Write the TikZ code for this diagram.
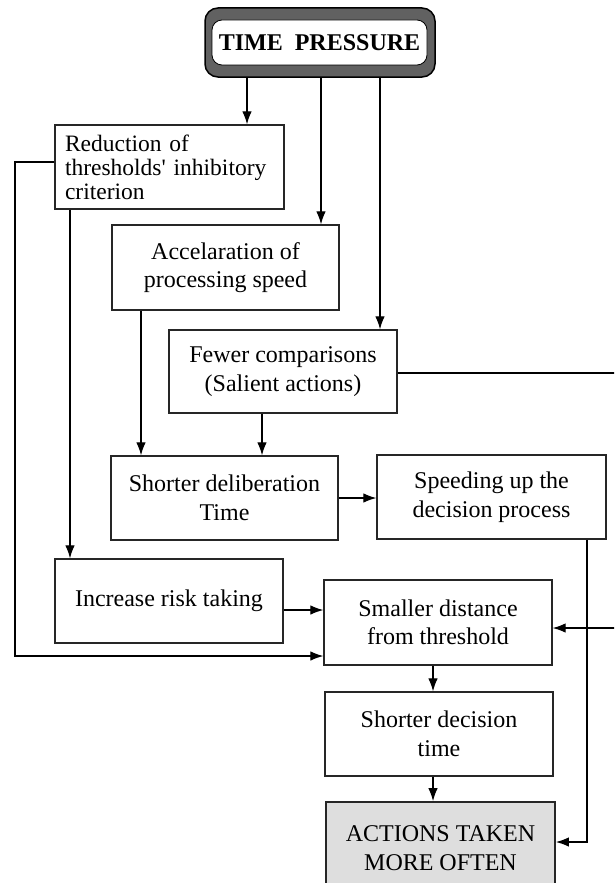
\documentclass[tikz,border=0pt]{standalone}
\usepackage{fontspec}
\setmainfont{Liberation Serif}
\usetikzlibrary{arrows.meta}
\begin{document}
\begin{tikzpicture}[x=1pt,y=-1pt,
  box/.style={draw=black!85, line width=1.3pt, inner sep=0pt, align=center,
    font=\fontsize{24}{28.5}\selectfont},
  arr/.style={line width=1.2pt, -{Latex[length=13pt,width=9.5pt]}},
  link/.style={line width=1.2pt}]
\useasboundingbox (0,0) rectangle (614,883);
\clip (0,0) rectangle (614,883);

% title box: dark rounded frame with a white rounded panel inside
\node (tp) at (320,42.5) [minimum width=230, minimum height=69, rounded corners=13pt,
  fill=black!62, draw=black, line width=1.5pt] {};
\node (tpin) at (319.5,42.5) [minimum width=215, minimum height=45, rounded corners=10pt,
  fill=white, draw=black, line width=0.8pt, inner sep=0pt,
  font=\fontsize{24}{28}\selectfont\bfseries] {TIME\ \ PRESSURE};

% process boxes
\node[box, minimum width=229, minimum height=84, text width=209, align=left,
  font=\fontsize{23.5}{24}\selectfont] (red) at (169.5,167)
  {Reduction of\\thresholds\textquotesingle{} inhibitory\\criterion};
\node[box, minimum width=227, minimum height=85] (acc) at (225.5,267.5)
  {Accelaration of\\processing speed};
\node[box, minimum width=228, minimum height=83] (few) at (283,371.5)
  {Fewer comparisons\\(Salient actions)};
\node[box, minimum width=227, minimum height=84] (del) at (224.5,498)
  {Shorter deliberation\\Time};
\node[box, minimum width=229, minimum height=84] (spd) at (491.5,497)
  {Speeding up the\\decision process};
\node[box, minimum width=228, minimum height=84] (risk) at (169,601)
  {Increase risk taking};
\node[box, minimum width=228, minimum height=85] (sml) at (438,622.5)
  {Smaller distance\\from threshold};
\node[box, minimum width=228, minimum height=84] (dec) at (439,734)
  {Shorter decision\\time};
\node[box, fill=black!13, line width=1.8pt, minimum width=229, minimum height=92] (act) at (440.5,848)
  {ACTIONS TAKEN\\MORE OFTEN};

% connectors from the title
\draw[arr] (tp.south -| 247,0) -- (red.north -| 247,0);
\draw[arr] (tp.south -| 321,0) -- (acc.north -| 321,0);
\draw[arr] (tp.south -| 380,0) -- (few.north -| 380,0);

% threshold branch
\draw[arr] (red.south -| 70,0) -- (risk.north -| 70,0);
\draw[arr] (red.west |- 0,162) -- (15,162) -- (15,656) -- (sml.west |- 0,656);

% speed branch
\draw[arr] (acc.south -| 141,0) -- (del.north -| 141,0);
\draw[arr] (few.south -| 262,0) -- (del.north -| 262,0);
\draw[arr] (few.east |- 0,373) -- (625,373) -- (625,628) -- (sml.east |- 0,628);
\draw[arr] (del.east |- 0,498) -- (spd.west |- 0,498);
\draw[arr] (spd.south -| 587,0) -- (587,842) -- (act.east |- 0,842);

% risk and outcome chain
\draw[arr] (risk.east |- 0,610) -- (sml.west |- 0,610);
\draw[arr] (sml.south -| 433,0) -- (dec.north -| 433,0);
\draw[arr] (dec.south -| 433,0) -- (act.north -| 433,0);
\end{tikzpicture}
\end{document}
